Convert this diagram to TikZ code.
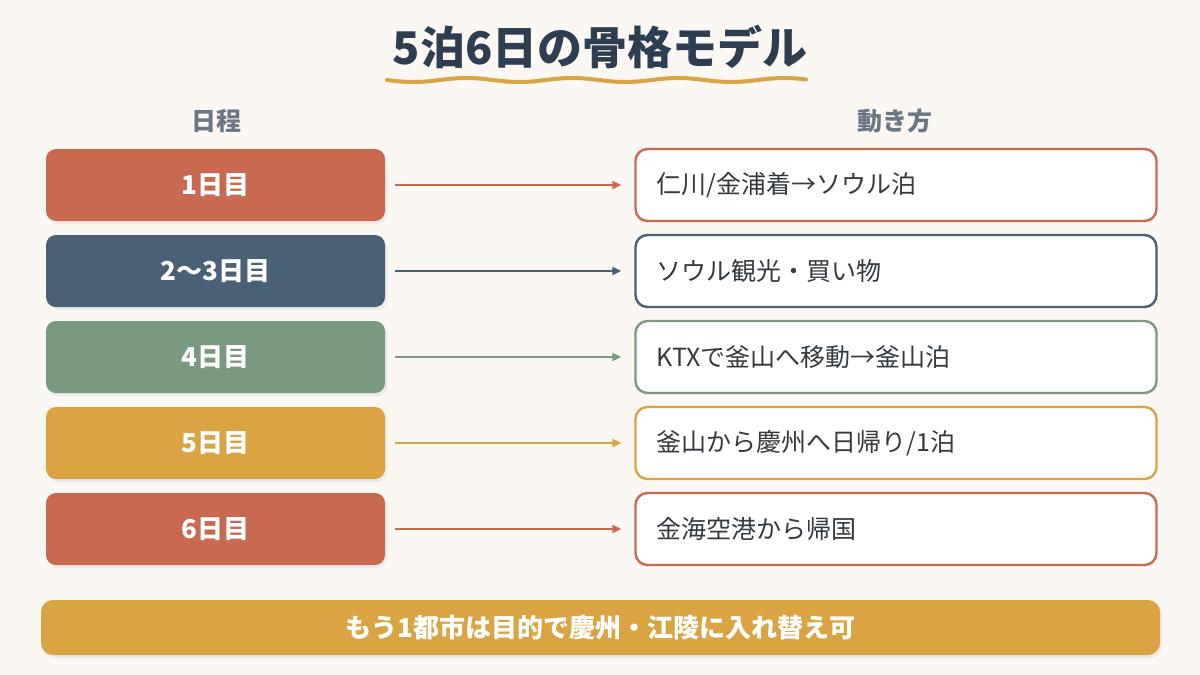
\documentclass[tikz,border=0pt]{standalone}
\usepackage{fontspec}
\setmainfont{Noto Sans CJK JP}
\usetikzlibrary{arrows.meta}
\definecolor{nenkem}{HTML}{FBF7F2}
\definecolor{chuxanh}{HTML}{2C3E50}
\definecolor{chuxam}{HTML}{6B7785}
\definecolor{dodat}{HTML}{C96A50}
\definecolor{xanhda}{HTML}{4A6076}
\definecolor{xanhla}{HTML}{7A9A80}
\definecolor{vangnghe}{HTML}{D9A441}
\definecolor{chuden}{HTML}{333A40}

\begin{document}
\begin{tikzpicture}[x=1pt, y=-1pt,
	daybox/.style={rounded corners=10pt, minimum width=339pt, minimum height=72pt, text=white, font=\fontsize{26}{30}\selectfont\bfseries},
	movebox/.style={draw, fill=white, line width=2.4pt, rounded corners=12pt, minimum width=521pt, minimum height=72pt, inner xsep=21pt, text width=479pt, align=left, text=chuden, font=\fontsize{25}{29}\selectfont},
	tiep/.style={line width=2pt, -{Triangle[length=9pt,width=8pt]}, shorten <=10pt, shorten >=13pt}]
				\useasboundingbox (0,0) rectangle (1200,675);
				\fill[nenkem] (0,0) rectangle (1200,675);
				% tieu de
				\node[text=chuxanh, font=\fontsize{45}{50}\selectfont\bfseries] (tieude) at (600,47) {5泊6日の骨格モデル};
				\draw[vangnghe, line width=4pt, line cap=round] plot[domain=387:806, samples=120] (\x, {80+2*sin((\x-387)*3.4)});
				\node[text=chuxam, font=\fontsize{25}{30}\selectfont\bfseries] (cotngay) at (216,121) {日程};
				\node[text=chuxam, font=\fontsize{25}{30}\selectfont\bfseries] (cotdi) at (895,121) {動き方};
				% bong mo
				\fill[black!8, rounded corners=10pt] (48,152) rectangle (387,224);
				\fill[black!8, rounded corners=10pt] (48,238) rectangle (387,310);
				\fill[black!8, rounded corners=10pt] (48,324) rectangle (387,396);
				\fill[black!8, rounded corners=10pt] (48,410) rectangle (387,482);
				\fill[black!8, rounded corners=10pt] (48,496) rectangle (387,568);
				% cot trai
				\node[daybox, fill=dodat] (ngay1) at (215.5,185) {1日目};
				\node[daybox, fill=xanhda] (ngay2) at (215.5,271) {2〜3日目};
				\node[daybox, fill=xanhla] (ngay4) at (215.5,357) {4日目};
				\node[daybox, fill=vangnghe] (ngay5) at (215.5,443) {5日目};
				\node[daybox, fill=dodat] (ngay6) at (215.5,529) {6日目};
				% cot phai
				\node[movebox, draw=dodat] (di1) at (896,185) {仁川/金浦着→ソウル泊};
				\node[movebox, draw=xanhda] (di2) at (896,271) {ソウル観光・買い物};
				\node[movebox, draw=xanhla] (di4) at (896,357) {KTXで釜山へ移動→釜山泊};
				\node[movebox, draw=vangnghe] (di5) at (896,443) {釜山から慶州へ日帰り/1泊};
				\node[movebox, draw=dodat] (di6) at (896,529) {金海空港から帰国};
				\draw[tiep, dodat] (ngay1) -- (di1);
				\draw[tiep, xanhda] (ngay2) -- (di2);
				\draw[tiep, xanhla] (ngay4) -- (di4);
				\draw[tiep, vangnghe] (ngay5) -- (di5);
				\draw[tiep, dodat] (ngay6) -- (di6);
				% ghi chu
				\fill[black!8, rounded corners=12pt] (43,603) rectangle (1162,658);
				\node[fill=vangnghe, rounded corners=12pt, minimum width=1119pt, minimum height=55pt, text=white, font=\fontsize{26}{30}\selectfont\bfseries] (ghichu) at (600.5,627.5) {もう1都市は目的で慶州・江陵に入れ替え可};
			\end{tikzpicture}
\end{document}
